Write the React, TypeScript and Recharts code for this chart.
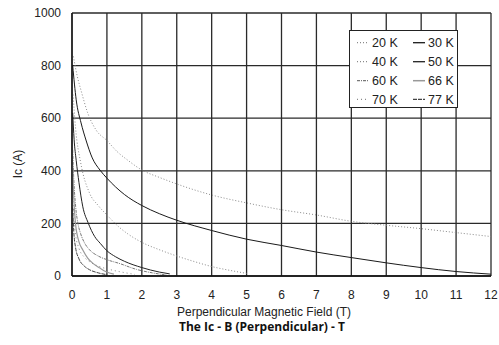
import { LineChart, Line, XAxis, YAxis, CartesianGrid } from "recharts";

// Ic (A) vs perpendicular field (T), one pair of arrays per temperature
const field20 = [0.04, 0.15, 0.26, 0.45, 0.69, 1, 1.3, 1.6, 2, 2.5, 3, 4, 5, 6, 7, 8, 9, 10, 11, 12];
const ic20 = [835, 760, 705, 620, 555, 515, 472, 440, 403, 375, 350, 308, 278, 252, 232, 208, 193, 180, 165, 150];

const field30 = [0.02, 0.12, 0.26, 0.4, 0.58, 0.8, 1, 1.5, 2, 2.5, 3, 4, 5, 6, 7, 8, 9, 10, 11, 12];
const ic30 = [800, 670, 582, 517, 449, 403, 372, 310, 268, 237, 212, 173, 140, 116, 91, 70, 50, 32, 17, 7];

const field40 = [0.03, 0.1, 0.25, 0.5, 0.75, 1, 1.33, 1.6, 2, 2.5, 3, 3.5, 4, 4.5, 5];
const ic40 = [690, 565, 430, 316, 268, 232, 188, 160, 128, 100, 76, 55, 36, 22, 10];

const field50 = [0.02, 0.06, 0.12, 0.2, 0.31, 0.46, 0.65, 0.81, 1, 1.25, 1.5, 2, 2.5, 2.8];
const ic50 = [620, 520, 440, 355, 263, 203, 150, 124, 96, 73, 56, 32, 15, 8];

const field60 = [0.02, 0.05, 0.1, 0.17, 0.25, 0.35, 0.5, 0.75, 1, 1.35, 1.85, 2.3, 2.7];
const ic60 = [480, 370, 270, 200, 160, 128, 100, 76, 62, 48, 25, 12, 4];

const field66 = [0.02, 0.05, 0.1, 0.2, 0.31, 0.45, 0.6, 0.8, 0.98, 1.2];
const ic66 = [420, 300, 200, 130, 99, 68, 48, 30, 16, 7];

const field70 = [0.02, 0.05, 0.1, 0.2, 0.35, 0.5, 0.81, 1.1, 1.38, 1.8];
const ic70 = [330, 230, 160, 105, 72, 55, 35, 24, 16, 6];

const field77 = [0.02, 0.05, 0.1, 0.2, 0.35, 0.5, 0.75, 1];
const ic77 = [260, 170, 110, 65, 38, 24, 12, 5];

const xTicks = [0, 1, 2, 3, 4, 5, 6, 7, 8, 9, 10, 11, 12];
const yTicks = [0, 200, 400, 600, 800, 1000];

const zip = (field: number[], ic: number[]) => field.map((b, i) => ({ b, ic: ic[i] }));

const series = [
  { name: "20 K", data: zip(field20, ic20), stroke: "#8a8a8a", dash: "1 2", w: 1 },
  { name: "30 K", data: zip(field30, ic30), stroke: "#1a1a1a", dash: undefined, w: 1 },
  { name: "40 K", data: zip(field40, ic40), stroke: "#8a8a8a", dash: "1 2", w: 1 },
  { name: "50 K", data: zip(field50, ic50), stroke: "#222", dash: undefined, w: 1 },
  { name: "60 K", data: zip(field60, ic60), stroke: "#777", dash: "3 1 1 1", w: 1 },
  { name: "66 K", data: zip(field66, ic66), stroke: "#999", dash: undefined, w: 1.2 },
  { name: "70 K", data: zip(field70, ic70), stroke: "#8a8a8a", dash: "1 3", w: 1 },
  { name: "77 K", data: zip(field77, ic77), stroke: "#444", dash: "4 1", w: 1 },
];

const font = "'Liberation Sans', Arial, sans-serif";

function LegendBox() {
  const rows = [12.7, 31.7, 50.7, 69.3];
  return (
    <svg width={110} height={79} style={{ position: "absolute", left: 349, top: 30 }}>
      <rect x={0.5} y={0.5} width={108} height={77} fill="#fff" stroke="#222" />
      {series.map((s, i) => {
        const col = i % 2;
        const y = rows[Math.floor(i / 2)];
        const x0 = col === 0 ? 8 : 64;
        return (
          <g key={s.name}>
            <line x1={x0} x2={x0 + 12} y1={y} y2={y} stroke={s.stroke}
              strokeWidth={s.w + 0.3} strokeDasharray={s.dash} />
            <text x={x0 + 15} y={y + 4.3} fontSize={12.5} fontFamily={font} fill="#222">
              {s.name}
            </text>
          </g>
        );
      })}
    </svg>
  );
}

export default function App() {
  return (
    <div style={{ position: "absolute", left: 0, top: 0, width: 499, height: 345, background: "#fff" }}>
      <LineChart width={499} height={345} margin={{ top: 13, right: 8, bottom: 39, left: 0 }}>
        <CartesianGrid stroke="#2a2a2a" strokeWidth={1.3} />
        <XAxis
          dataKey="b"
          type="number"
          domain={[0, 12]}
          ticks={xTicks}
          allowDataOverflow
          height={30}
          tickLine={false}
          tickMargin={8}
          axisLine={{ stroke: "#111", strokeWidth: 1.3 }}
          tick={{ fontSize: 12, fill: "#222", fontFamily: font }}
        />
        <YAxis
          type="number"
          domain={[0, 1000]}
          ticks={yTicks}
          width={72}
          tickLine={false}
          tickMargin={5}
          axisLine={{ stroke: "#111", strokeWidth: 1.3 }}
          tick={{ fontSize: 12, fill: "#222", fontFamily: font }}
        />
        {series.map((s) => (
          <Line
            key={s.name}
            data={s.data}
            dataKey="ic"
            type="monotone"
            stroke={s.stroke}
            strokeWidth={s.w}
            strokeDasharray={s.dash}
            dot={false}
            isAnimationActive={false}
          />
        ))}
      </LineChart>
      <svg width={499} height={345} style={{ position: "absolute", left: 0, top: 0, pointerEvents: "none" }}>
        <text x={18} y={164} transform="rotate(-90 18 164)" textAnchor="middle" dominantBaseline="central"
          fontSize={12} fontFamily={font} fill="#222">Ic (A)</text>
        <text x={264} y={316} textAnchor="middle" fontSize={12} fontFamily={font} fill="#222">
          Perpendicular Magnetic Field (T)
        </text>
        <text x={262} y={331} textAnchor="middle" fontSize={12} fontWeight="bold"
          fontFamily="'Open Sans', sans-serif" fill="#111">
          The Ic - B (Perpendicular) - T
        </text>
      </svg>
      <LegendBox />
    </div>
  );
}
